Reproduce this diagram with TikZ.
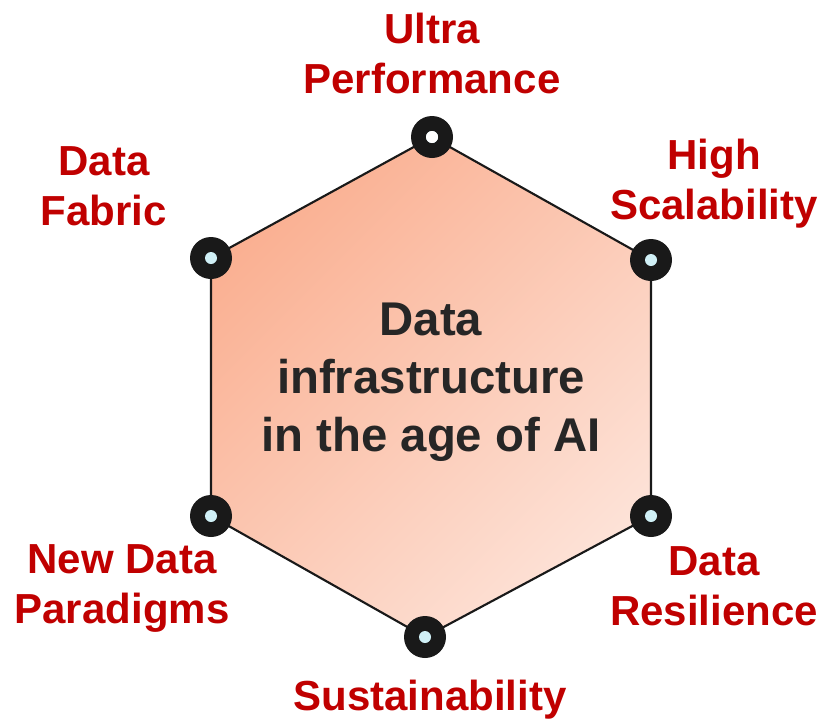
\documentclass[tikz,border=0pt]{standalone}
\usepackage{fontspec}
\setmainfont{Liberation Sans}
\begin{document}
\begin{tikzpicture}[x=0.75pt,y=-0.75pt]
\definecolor{labelred}{RGB}{192,0,0}
\definecolor{hexdark}{RGB}{250,176,146}
\definecolor{hexlight}{RGB}{253,226,215}
\definecolor{holecyan}{RGB}{208,240,246}
\tikzstyle{corner} = [circle,fill=black!90,minimum size=31.5pt,inner sep=0];
\tikzstyle{hole} = [circle,fill=holecyan,minimum size=9pt,inner sep=0];
\tikzstyle{label} = [font=\fontsize{31.5}{37.5}\selectfont\bfseries,color=labelred,align=center,inner sep=0];
\tikzstyle{center} = [font=\fontsize{35.5}{43.5}\selectfont\bfseries,color=black!85,align=center,inner sep=0];
\tikzstyle{hexa} = [top color=hexdark,bottom color=hexlight,shading angle=45];
\useasboundingbox (0,0) rectangle (825,725);
\coordinate (v1) at (432,137);
\coordinate (v2) at (651,260);
\coordinate (v3) at (651,516);
\coordinate (v4) at (425,637);
\coordinate (v5) at (211,516);
\coordinate (v6) at (211,258);
\shade [hexa] (v1) -- (v2) -- (v3) -- (v4) -- (v5) -- (v6) -- cycle;
\draw [line width=1.6pt,black!90] (v1) -- (v2) -- (v3) -- (v4) -- (v5) -- (v6) -- cycle;
\node [center] (c) at (431,382) {Data\\infrastructure\\in the age of AI};
\foreach \v in {v1,v2,v3,v4,v5,v6} {
  \node [corner] (d\v) at (\v) {};
  \node [hole] (h\v) at (\v) {};
}
\node [hole,fill=white] at (v1) {};
\node [label] (l1) at (432,53) {Ultra\\Performance};
\node [label] (l2) at (714,184) {High\\Scalability};
\node [label] (l3) at (714,586) {Data\\Resilience};
\node [label] (l4) at (430,700) {Sustainability};
\node [label] (l5) at (122,588) {New Data\\Paradigms};
\node [label] (l6) at (104,186) {Data\\Fabric};
\end{tikzpicture}
\end{document}
